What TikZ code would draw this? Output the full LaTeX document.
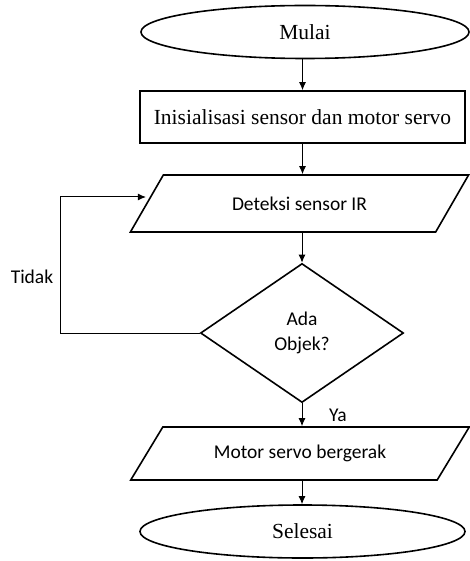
\documentclass[tikz,border=0pt]{standalone}
\usepackage{fontspec}
\setmainfont{Liberation Serif}
\newfontfamily\calibri{Carlito}
\usetikzlibrary{shapes.geometric,arrows.meta}

\tikzset{
  terminal/.style={ellipse, draw, line width=1.6pt, inner sep=0pt, minimum width=328pt, minimum height=53pt, font=\fontsize{21.5}{25}\selectfont},
  process/.style={rectangle, draw, line width=1.6pt, inner sep=0pt, minimum width=325pt, minimum height=52pt, font=\fontsize{21.5}{25}\selectfont},
  io/.style={trapezium, trapezium left angle=40, trapezium right angle=140, trapezium stretches=true, draw, line width=1.6pt, inner sep=0pt, minimum width=339pt, minimum height=57pt, font=\calibri\fontsize{19.5}{23}\selectfont},
  decision/.style={diamond, draw, line width=1.6pt, inner sep=0pt, minimum width=203pt, minimum height=139pt, align=center, font=\calibri\fontsize{19.5}{25}\selectfont},
  lbl/.style={font=\calibri\fontsize{19.5}{23}\selectfont},
  arr/.style={-{Latex[length=8pt,width=7pt]}, line width=1pt}
}

\begin{document}
\begin{tikzpicture}[x=1pt, y=-1pt]
                \useasboundingbox (0,0) rectangle (470,561);

                % Nodes
                \node[terminal] (mulai) at (305,32) {Mulai};
                \node[process] (init) at (302.5,117) {Inisialisasi sensor dan motor servo};
                \node[io] (deteksi) at (299.5,203.5) {Deteksi sensor IR};
                \node[decision] (ada) at (302,333) {Ada\\Objek?};
                \node[io, minimum height=53pt] (gerak) at (300,453.5) {Motor servo bergerak};
                \node[terminal, minimum width=325pt] (selesai) at (302.5,531.5) {Selesai};
                \node[lbl] (tidak) at (32,277) {Tidak};
                \node[lbl] (ya) at (338,415) {Ya};
                \coordinate (belok) at (60,333);

                % Edges
                \draw[arr] (init.north |- mulai.south) -- (init.north);
                \draw[arr] (init.south) -- (init.south |- deteksi.north);
                \draw[arr] (deteksi.south -| ada.north) -- (ada.north);
                \draw[arr] (ada.south) -- (ada.south |- gerak.north);
                \draw[arr] (gerak.south -| ada.south) -- (ada.south |- selesai.north);
                \draw[arr] (ada.west) -- (belok) |- ([yshift=6.5pt]deteksi.west);
            \end{tikzpicture}
\end{document}
